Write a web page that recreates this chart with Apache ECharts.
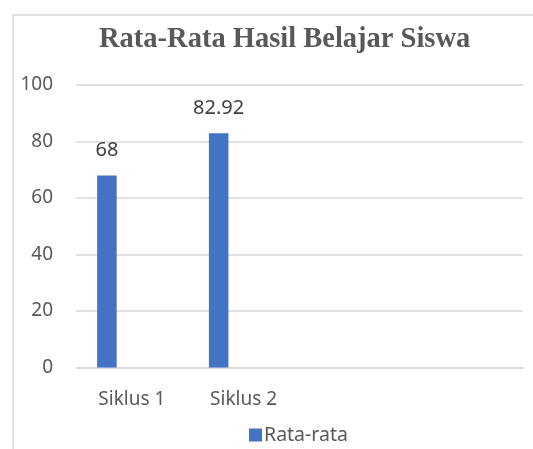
<!DOCTYPE html>
<html><head><meta charset="utf-8">
<script src="https://cdn.jsdelivr.net/npm/echarts@6/dist/echarts.min.js"></script>
<style>html,body{margin:0;padding:0;background:#fff}#c{width:533px;height:449px}</style>
</head><body><div id="c"></div>
<script>
const titleText = 'Rata-Rata Hasil Belajar Siswa';
const categories = ['Siklus 1', 'Siklus 2', '', ''];
const seriesName = 'Rata-rata';
const rataRata = [68, 82.92, null, null];
const yTicks = {min: 0, max: 100, interval: 20};

const chart = echarts.init(document.getElementById('c'));
chart.setOption({
  animation: false,
  graphic: [{
    type: 'rect', silent: true,
    shape: {x: 13, y: 15, width: 600, height: 600},
    style: {fill: 'none', stroke: '#d9d9d9', lineWidth: 1.5}
  }],
  title: {
    text: titleText, left: 94, top: 20,
    textStyle: {fontFamily: 'Liberation Serif', fontWeight: 'bold', fontSize: 28.5, color: '#595959'}
  },
  legend: {
    data: [seriesName], left: 244, top: 420, itemWidth: 13, itemHeight: 13, itemGap: 10,
    icon: 'rect',
    textStyle: {fontFamily: 'Noto Sans', fontSize: 19.5, color: '#595959', padding: [0,0,0,-3]}
  },
  grid: {left: 76, right: 10, top: 85, bottom: 81.5, containLabel: false},
  xAxis: {
    type: 'category', data: categories,
    axisLine: {lineStyle: {color: '#d9d9d9', width: 1.5}},
    axisTick: {show: false},
    axisLabel: {fontFamily: 'Noto Sans', fontSize: 19, color: '#595959', margin: 23}
  },
  yAxis: {
    type: 'value', min: yTicks.min, max: yTicks.max, interval: yTicks.interval,
    axisLine: {show: false}, axisTick: {show: false},
    splitLine: {lineStyle: {color: '#d9d9d9', width: 1.5}},
    axisLabel: {fontFamily: 'Noto Sans', fontSize: 19, color: '#595959', margin: 23}
  },
  series: [{
    name: seriesName, type: 'bar', data: rataRata, barWidth: 19.5, barGap: '28%',
    itemStyle: {color: '#4472c4'},
    label: {show: true, position: 'top', distance: 15, fontFamily: 'Noto Sans', fontSize: 20, color: '#404040'}
  }, {
    name: 'b', type: 'bar', data: [null, null, null, null], barWidth: 19.5
  }, {
    name: 'c', type: 'bar', data: [null, null, null, null], barWidth: 19.5
  }]
});
</script></body></html>
